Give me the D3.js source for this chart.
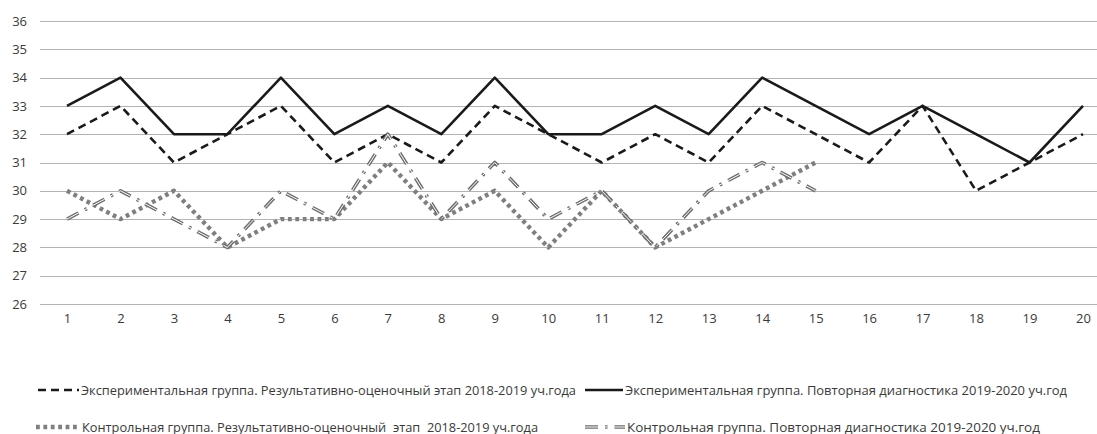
<!DOCTYPE html>
<html>
<head>
<meta charset="utf-8">
<script src="https://cdn.jsdelivr.net/npm/d3@7"></script>
<style>
  html, body { margin: 0; padding: 0; background: #fff; }
  svg { display: block; }
  text { font-family: "Open Sans", Lato, "Liberation Sans", sans-serif; fill: #3a3a3a; white-space: pre; }
</style>
</head>
<body>
<svg id="chart" width="1097" height="434"></svg>
<script>
// Observation numbers along the horizontal axis
const categories = d3.range(1, 21);
const yTicks = d3.range(26, 37);

// Scores per observation
const expResult2018 = [32, 33, 31, 32, 33, 31, 32, 31, 33, 32, 31, 32, 31, 33, 32, 31, 33, 30, 31, 32];
const expRepeat2019 = [33, 34, 32, 32, 34, 32, 33, 32, 34, 32, 32, 33, 32, 34, 33, 32, 33, 32, 31, 33];
const ctrlResult2018 = [30, 29, 30, 28, 29, 29, 31, 29, 30, 28, 30, 28, 29, 30, 31];
const ctrlRepeat2019 = [29, 30, 29, 28, 30, 29, 32, 29, 31, 29, 30, 28, 30, 31, 30];

const seriesNames = [
  "Экспериментальная группа. Результативно-оценочный этап 2018-2019 уч.года",
  "Экспериментальная группа. Повторная диагностика 2019-2020 уч.год",
  "Контрольная группа. Результативно-оценочный  этап  2018-2019 уч.года",
  "Контрольная группа. Повторная диагностика 2019-2020 уч.год"
];

const svg = d3.select("#chart");

const x = d3.scalePoint().domain(categories).range([67, 1083]);
const y = d3.scaleLinear().domain([26, 36]).range([304, 21]);

// Horizontal gridlines
svg.append("g")
  .selectAll("line")
  .data(yTicks)
  .join("line")
  .attr("x1", 40).attr("x2", 1110)
  .attr("y1", d => Math.round(y(d)) + 0.5)
  .attr("y2", d => Math.round(y(d)) + 0.5)
  .attr("stroke", "#b3b3b3")
  .attr("stroke-width", 1.2);

// Y axis labels
const yAxis = d3.axisLeft(y).tickValues(yTicks).tickSize(0).tickPadding(0).tickFormat(d3.format("d"));
const gy = svg.append("g").attr("transform", "translate(27,0)").call(yAxis);
gy.select(".domain").remove();
gy.selectAll("text").attr("font-size", 13).style("fill", "#3a3a3a")
  .style("font-family", "'Open Sans', Lato, sans-serif");

// X axis labels
const xAxis = d3.axisBottom(x).tickSize(0).tickPadding(0);
const gx = svg.append("g").attr("transform", "translate(0,314)").call(xAxis);
gx.select(".domain").remove();
gx.selectAll("text").attr("font-size", 13).style("fill", "#3a3a3a")
  .style("font-family", "'Open Sans', Lato, sans-serif");

const line = d3.line()
  .x((d, i) => x(categories[i]))
  .y(d => y(d));

// Series styles
const styles = [
  { data: expResult2018, layers: [{ stroke: "#1a1a1a", width: 2.6, dash: "8,5" }] },
  { data: expRepeat2019, layers: [{ stroke: "#1a1a1a", width: 2.6, dash: null }] },
  { data: ctrlResult2018, layers: [{ stroke: "#7f7f7f", width: 4.4, dash: "3.8,3.6" }] },
  { data: ctrlRepeat2019, layers: [
      { stroke: "#6e6e6e", width: 3.6, dash: "13,7,2.5,7" },
      { stroke: "#ffffff", width: 1.0, dash: "13,7,2.5,7" }
  ] }
];

const plot = svg.append("g");
styles.forEach(s => {
  s.layers.forEach(l => {
    plot.append("path")
      .datum(s.data)
      .attr("d", line)
      .attr("fill", "none")
      .attr("stroke", l.stroke)
      .attr("stroke-width", l.width)
      .attr("stroke-dasharray", l.dash)
      .attr("stroke-linejoin", "round");
  });
});

// Legend
const legendItems = [
  { name: seriesNames[0], sx: 38, sy: 390, tx: 81, w: 495, style: styles[0] },
  { name: seriesNames[1], sx: 585, sy: 390, tx: 625, w: 442, style: styles[1] },
  { name: seriesNames[2], sx: 36, sy: 427, tx: 82, w: 456, style: styles[2] },
  { name: seriesNames[3], sx: 585, sy: 427, tx: 627, w: 413, style: styles[3] }
];

const legend = svg.append("g");
legendItems.forEach(it => {
  const ex = it.tx - 2;
  it.style.layers.forEach(l => {
    legend.append("line")
      .attr("x1", it.sx).attr("x2", ex)
      .attr("y1", it.sy).attr("y2", it.sy)
      .attr("stroke", l.stroke)
      .attr("stroke-width", l.width)
      .attr("stroke-dasharray", l.dash);
  });
  legend.append("text")
    .attr("x", it.tx)
    .attr("y", it.sy + 4.5)
    .attr("font-size", 13)
    .attr("textLength", it.w)
    .attr("lengthAdjust", "spacingAndGlyphs")
    .text(it.name);
});
</script>
</body>
</html>
